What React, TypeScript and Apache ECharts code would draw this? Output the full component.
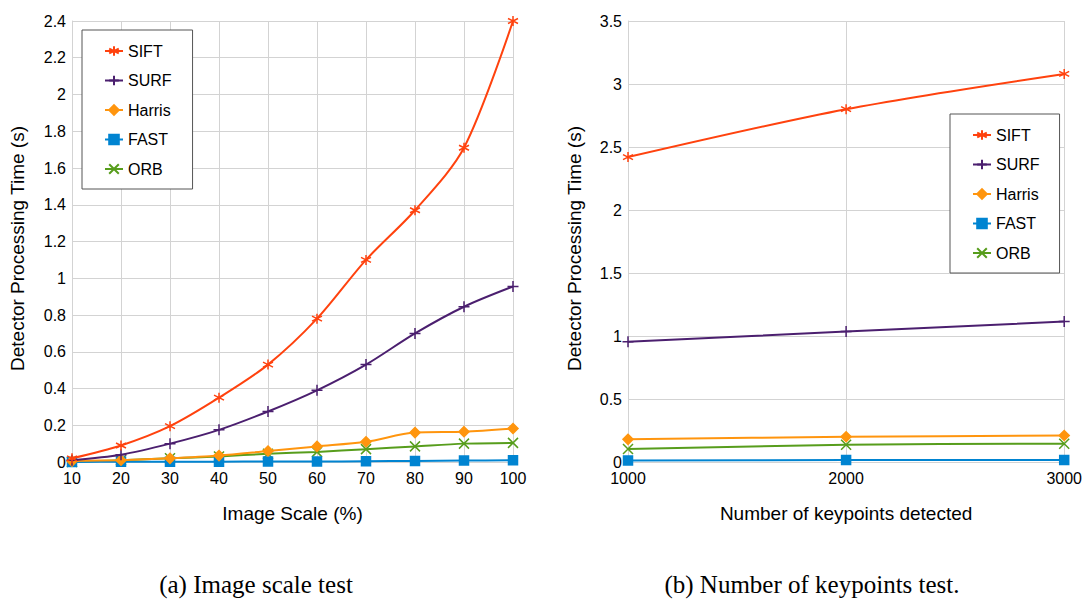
import React, { useEffect, useRef } from "react";
import * as echarts from "echarts";

const seriesNames = ["SIFT", "SURF", "Harris", "FAST", "ORB"];
const colors = ["#ff420e", "#4b1f6f", "#ff950e", "#0084d1", "#579d1c"];

const scaleX = [10, 20, 30, 40, 50, 60, 70, 80, 90, 100];
const scaleSIFT = [0.02, 0.09, 0.195, 0.35, 0.53, 0.78, 1.1, 1.37, 1.71, 2.4];
const scaleSURF = [0.01, 0.04, 0.1, 0.175, 0.275, 0.39, 0.53, 0.7, 0.845, 0.955];
const scaleHarris = [0.005, 0.01, 0.02, 0.035, 0.06, 0.085, 0.11, 0.16, 0.165, 0.182];
const scaleFAST = [0.0, 0.001, 0.001, 0.002, 0.003, 0.003, 0.004, 0.006, 0.008, 0.009];
const scaleORB = [0.0, 0.01, 0.02, 0.03, 0.045, 0.055, 0.07, 0.085, 0.1, 0.104];

const kpX = [1000, 2000, 3000];
const kpSIFT = [2.42, 2.8, 3.08];
const kpSURF = [0.955, 1.035, 1.115];
const kpHarris = [0.18, 0.2, 0.21];
const kpFAST = [0.012, 0.015, 0.015];
const kpORB = [0.103, 0.137, 0.145];

const symbols = [
  "path://M5 0 L5 10 M0.67 2.5 L9.33 7.5 M0.67 7.5 L9.33 2.5",
  "path://M5 0 L5 10 M0 5 L10 5",
  "diamond",
  "rect",
  "path://M0 0 L10 10 M0 10 L10 0",
];
const symbolSizes = [10, 11, 10, 9, 10];

const leftData = [scaleSIFT, scaleSURF, scaleHarris, scaleFAST, scaleORB];
const rightData = [kpSIFT, kpSURF, kpHarris, kpFAST, kpORB];

const SANS = "Liberation Sans, Arial, sans-serif";
const SERIF = "Liberation Serif, Times New Roman, serif";
const GRID = "#d3d3d3";

function makeSeries(xs: number[], ys: number[], i: number, axisIndex: number) {
  return {
    name: seriesNames[i],
    type: "line",
    xAxisIndex: axisIndex,
    yAxisIndex: axisIndex,
    data: xs.map((x, k) => [x, ys[k]]),
    smooth: 0.3,
    symbol: symbols[i],
    symbolSize: symbolSizes[i],
    showSymbol: true,
    lineStyle: { color: colors[i], width: 2 },
    itemStyle: { color: colors[i], borderColor: colors[i], borderWidth: 1.5 },
    z: 10 - i,
  };
}

export default function App() {
  const ref = useRef<HTMLDivElement>(null);
  useEffect(() => {
    if (!ref.current) return;
    const chart = echarts.init(ref.current, undefined, { renderer: "svg" });
    const axisText = { color: "#000", fontFamily: SANS, fontSize: 16 };
    const nameText = { color: "#000", fontFamily: SANS, fontSize: 19 };
    const yNameText = { ...nameText, padding: [0, 14, 0, 0] };
    const legendBase = {
      orient: "vertical",
      data: seriesNames,
      backgroundColor: "#fff",
      borderColor: "#555",
      borderWidth: 1,
      borderRadius: 0,
      itemWidth: 18,
      itemHeight: 12,
      itemGap: 13.5,
      textStyle: { color: "#000", fontFamily: SANS, fontSize: 16 },
      selectedMode: false,
    };
    const captionStyle = { fontFamily: SERIF, fontSize: 25, fontWeight: "normal", color: "#000" };
    chart.setOption({
      animation: false,
      backgroundColor: "#fff",
      title: [
        { text: "(a) Image scale test", left: 251, top: 567, textAlign: "center", textStyle: captionStyle },
        { text: "(b) Number of keypoints test.", left: 807, top: 567, textAlign: "center", textStyle: captionStyle },
      ],
      legend: [
        { ...legendBase, left: 82, top: 30, padding: [13, 21, 12, 22] },
        { ...legendBase, left: 950, top: 114, padding: [13, 20, 12, 22] },
      ],
      grid: [
        { left: 72, top: 21, width: 441, height: 441 },
        { left: 628, top: 21, width: 440, height: 441 },
      ],
      xAxis: [
        {
          type: "value",
          gridIndex: 0,
          min: 10,
          max: 100,
          interval: 10,
          name: "Image Scale (%)",
          nameLocation: "middle",
          nameGap: 42,
          nameTextStyle: nameText,
          axisLine: { lineStyle: { color: GRID } },
          axisTick: { show: false },
          axisLabel: { ...axisText, margin: 8, formatter: (v: number) => String(v) },
          splitLine: { show: true, lineStyle: { color: GRID } },
        },
        {
          type: "value",
          gridIndex: 1,
          min: 1000,
          max: 3000,
          interval: 1000,
          name: "Number of keypoints detected",
          nameLocation: "middle",
          nameGap: 42,
          nameTextStyle: nameText,
          axisLine: { lineStyle: { color: GRID } },
          axisTick: { show: false },
          axisLabel: { ...axisText, margin: 8, formatter: (v: number) => String(v) },
          splitLine: { show: true, lineStyle: { color: GRID } },
        },
      ],
      yAxis: [
        {
          type: "value",
          gridIndex: 0,
          min: 0,
          max: 2.4,
          interval: 0.2,
          name: "Detector Processing Time (s)",
          nameLocation: "middle",
          nameGap: 45,
          nameTextStyle: yNameText,
          axisLine: { show: true, lineStyle: { color: GRID } },
          axisTick: { show: false },
          axisLabel: { ...axisText, margin: 6 },
          splitLine: { show: true, lineStyle: { color: GRID } },
        },
        {
          type: "value",
          gridIndex: 1,
          min: 0,
          max: 3.5,
          interval: 0.5,
          name: "Detector Processing Time (s)",
          nameLocation: "middle",
          nameGap: 44,
          nameTextStyle: yNameText,
          axisLine: { show: true, lineStyle: { color: GRID } },
          axisTick: { show: false },
          axisLabel: { ...axisText, margin: 6 },
          splitLine: { show: true, lineStyle: { color: GRID } },
        },
      ],
      series: [
        ...leftData.map((d, i) => makeSeries(scaleX, d, i, 0)),
        ...rightData.map((d, i) => makeSeries(kpX, d, i, 1)),
      ],
    });
    return () => chart.dispose();
  }, []);
  return (
    <div
      ref={ref}
      style={{ position: "fixed", left: 0, top: 0, width: 1085, height: 601 }}
    />
  );
}
